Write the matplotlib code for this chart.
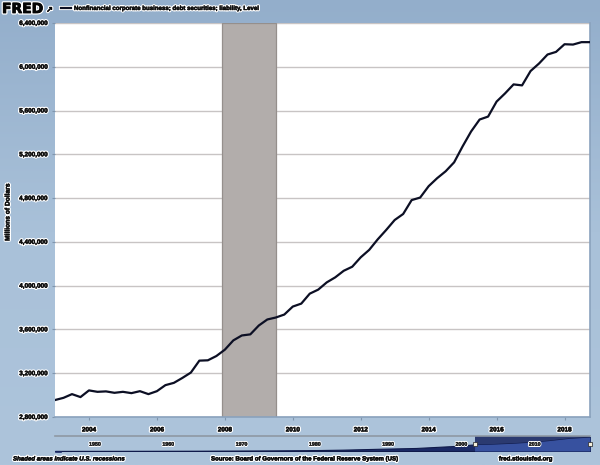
import matplotlib
matplotlib.use("Agg")
import matplotlib.pyplot as plt
import matplotlib.patheffects as pe
import numpy as np
from matplotlib.colors import LinearSegmentedColormap

# ---------------- data ----------------
start_year = 2003.0
debt = [
    2955000, 2975000, 3009000, 2982000,   # 2003
    3043000, 3030000, 3034000, 3021000,   # 2004
    3030000, 3018000, 3036000, 3009000,   # 2005
    3036000, 3091000, 3112000, 3157000,   # 2006
    3206000, 3315000, 3318000, 3357000,   # 2007
    3415000, 3500000, 3545000, 3555000,   # 2008
    3636000, 3691000, 3709000, 3736000,   # 2009
    3809000, 3836000, 3927000, 3964000,   # 2010
    4030000, 4076000, 4136000, 4173000,   # 2011
    4259000, 4327000, 4423000, 4509000,   # 2012
    4600000, 4655000, 4782000, 4805000,   # 2013
    4909000, 4982000, 5045000, 5127000,   # 2014
    5273000, 5409000, 5518000, 5545000,   # 2015
    5682000, 5757000, 5839000, 5830000,   # 2016
    5961000, 6030000, 6112000, 6136000,   # 2017
    6206000, 6203000, 6225000, 6225000,   # 2018
]
dates = [start_year + 0.25 * i for i in range(len(debt))]

recession_start, recession_end = 2007.92, 2009.5

y_ticks = [2800000, 3200000, 3600000, 4000000, 4400000, 4800000,
           5200000, 5600000, 6000000, 6400000]
x_ticks = [2004, 2006, 2008, 2010, 2012, 2014, 2016, 2018]

# navigator (full history) approximate
nav_years = [1945.75, 1950, 1955, 1960, 1965, 1970, 1975, 1980, 1985,
             1990, 1995, 2000, 2003, 2005, 2008, 2010, 2013, 2016, 2018.75]
nav_values = [25000, 38000, 55000, 75000, 100000, 170000, 250000, 350000,
              600000, 1000000, 1350000, 2200000, 2950000, 3020000, 3420000,
              3810000, 4600000, 5680000, 6225000]
nav_ticks = [1950, 1960, 1970, 1980, 1990, 2000, 2010]
slider_range = (2003.0, 2018.75)

series_title = "Nonfinancial corporate business; debt securities; liability, Level"

# ---------------- figure ----------------
W, H = 600, 465
fig = plt.figure(figsize=(W / 100, H / 100), dpi=100)
fig.patch.set_facecolor("#a3bcd5")

bg = fig.add_axes([0, 0, 1, 1], zorder=-10)
grad = np.linspace(0, 1, 256).reshape(-1, 1)
cmap_bg = LinearSegmentedColormap.from_list("bg", ["#93aecb", "#a9c1d9", "#adc4db"])
bg.imshow(grad, aspect="auto", cmap=cmap_bg, extent=[0, 1, 0, 1], origin="upper")
bg.set_axis_off()

FONT = "Liberation Sans"
TXT = "#0d0d0d"
glow = [pe.Stroke(linewidth=2.0, foreground="white"),
        pe.Stroke(linewidth=0.35, foreground=TXT), pe.Normal()]


def px_box(l, t, r, b):
    return [l / W, 1 - b / H, (r - l) / W, (b - t) / H]


ax = fig.add_axes(px_box(55, 23, 590, 417))
ax.set_facecolor("white")
ax.axvspan(recession_start, recession_end, facecolor="#b2adab", edgecolor="#958f8c",
           linewidth=0.9, zorder=1)
ax.plot(dates, debt, color="#0c0f24", linewidth=1.6, zorder=3,
        solid_joinstyle="round")
ax.set_xlim(2003.0, 2018.75)
ax.set_ylim(2800000, 6400000)
ax.set_yticks(y_ticks)
ax.set_yticklabels([f"{v:,}" for v in y_ticks])
ax.set_xticks(x_ticks)
ax.set_xticklabels([str(x) for x in x_ticks])
ax.grid(axis="y", color="#c8c4c4", linewidth=1.0, zorder=0)
ax.set_axisbelow(True)
for s in ["top", "left"]:
    ax.spines[s].set_visible(False)
for s in ["right", "bottom"]:
    ax.spines[s].set_color("#8aa2bd")
    ax.spines[s].set_linewidth(1.2)
ax.tick_params(axis="both", length=2.5, color="#7f95ad", width=0.8, pad=3)
ax.tick_params(axis="x", pad=5)
for lab in ax.get_yticklabels() + ax.get_xticklabels():
    lab.set_fontfamily(FONT)
    lab.set_fontweight("bold")
    lab.set_fontsize(4.6)
    lab.set_color(TXT)
    lab.set_path_effects(glow)

fig.text(8 / W, 1 - 212 / H, "Millions of Dollars", rotation=90, ha="center",
         va="center", fontsize=4.8, fontweight="bold", family=FONT,
         color=TXT, path_effects=glow)

# header: FRED logo + legend
fig.text(2 / W, 1 - 9 / H, "FRED", ha="left", va="center", fontsize=10,
         fontweight="bold", family="DejaVu Sans", color="#050505",
         path_effects=[pe.Stroke(linewidth=2.4, foreground="white"),
                       pe.Stroke(linewidth=0.6, foreground="#050505"),
                       pe.Normal()])
fig.text(46 / W, 1 - 10 / H, "\u2197", ha="left", va="center", fontsize=6,
         fontweight="bold", family="DejaVu Sans", color="#050505",
         path_effects=glow)
fig.lines.append(plt.Line2D([61 / W, 71 / W], [1 - 8.5 / H, 1 - 8.5 / H],
                            transform=fig.transFigure, color="#0c0f24",
                            linewidth=1.6,
                            path_effects=[pe.Stroke(linewidth=3, foreground="white"),
                                          pe.Normal()]))
fig.text(74 / W, 1 - 8.5 / H, series_title, ha="left", va="center",
         fontsize=4.4, fontweight="bold", family=FONT, color=TXT,
         path_effects=glow)

# navigator
nav = fig.add_axes(px_box(55, 436, 590, 451), zorder=2)
nav.patch.set_alpha(0)
nav.set_xlim(1945.75, 2018.75)
nav.set_ylim(0, 6700000)
nav.fill_between(nav_years, 0, nav_values, color="#1b2a66", linewidth=0.8,
                 edgecolor="#0f1a4a", zorder=2)
nav.axvspan(slider_range[0], slider_range[1], facecolor="#14225e", alpha=0.85,
            zorder=1)
nav.fill_between([y for y in nav_years if y >= slider_range[0]], 0,
                 [v for y, v in zip(nav_years, nav_values) if y >= slider_range[0]],
                 color="#3b56a6", alpha=0.9, zorder=3, linewidth=0)
for sx in slider_range:
    nav.plot([sx], [3300000], marker="s", markersize=3.2, markerfacecolor="#f4eedc",
             markeredgecolor="#222222", markeredgewidth=0.5, zorder=5,
             clip_on=False)
for s in nav.spines.values():
    s.set_visible(False)
nav.spines["top"].set_visible(True)
nav.spines["top"].set_color("#8e98a3")
nav.spines["top"].set_linewidth(1.2)
nav.set_yticks([])
nav.set_xticks([])
nav_glow = [pe.Stroke(linewidth=1.6, foreground="white"),
            pe.Stroke(linewidth=0.3, foreground="#222222"), pe.Normal()]
for t in nav_ticks:
    nav.text(t + 0.4, 0.45, str(t), transform=nav.get_xaxis_transform(),
             ha="left", va="center", fontsize=3.8, fontweight="bold",
             family=FONT, color="#222222", path_effects=nav_glow, zorder=4)
fig.lines.append(plt.Line2D([56 / W, 61 / W], [1 - 452 / H, 1 - 452 / H],
                            transform=fig.transFigure, color="#1b2a66",
                            linewidth=1.2))

# footer
fig.text(13 / W, 1 - 459 / H, "Shaded areas indicate U.S. recessions", ha="left",
         va="center", fontsize=4.4, fontweight="bold", style="italic", family=FONT,
         color=TXT, path_effects=glow)
fig.text(305 / W, 1 - 459 / H,
         "Source: Board of Governors of the Federal Reserve System (US)",
         ha="center", va="center", fontsize=4.4, fontweight="bold", family=FONT,
         color=TXT, path_effects=glow)
fig.text(526 / W, 1 - 459 / H, "fred.stlouisfed.org", ha="center", va="center",
         fontsize=4.4, fontweight="bold", family=FONT, color=TXT,
         path_effects=glow)

fig.savefig("out.png", dpi=100)
